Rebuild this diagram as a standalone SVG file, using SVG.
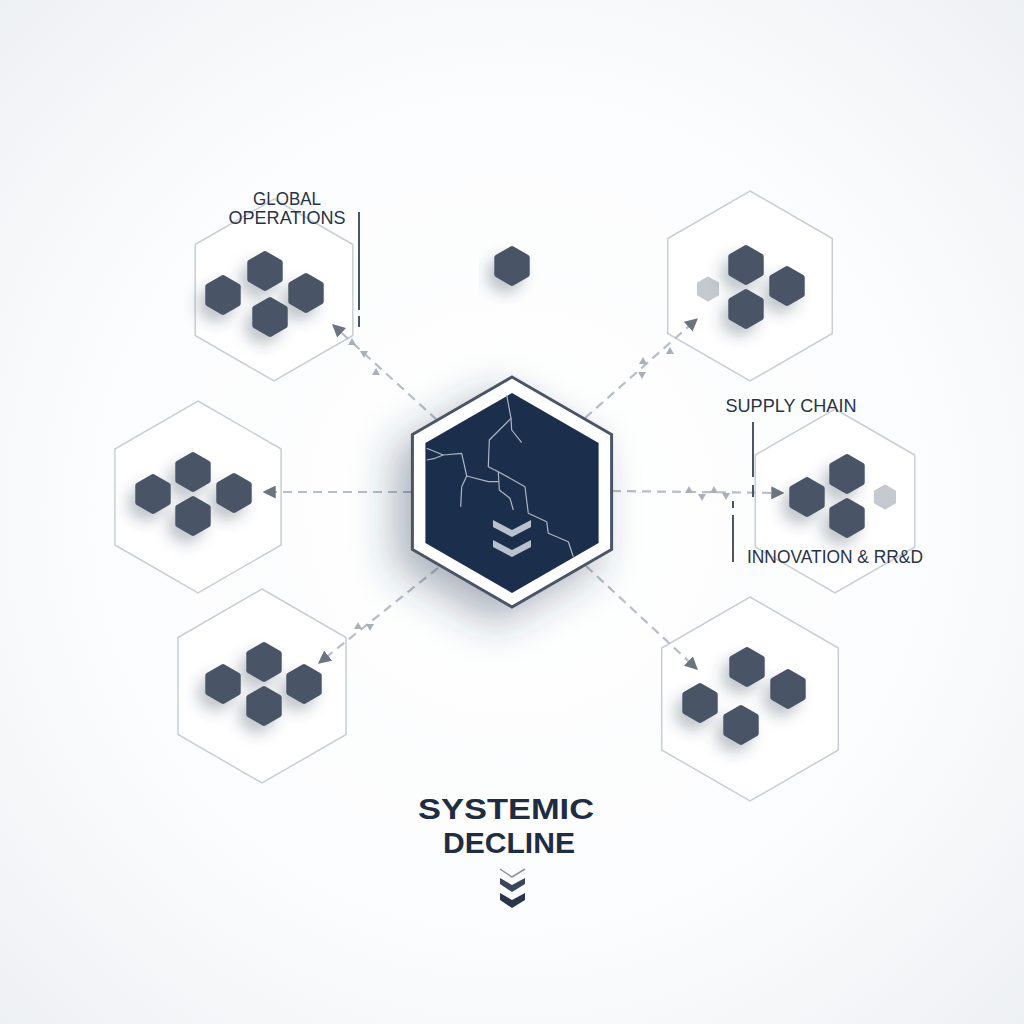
<svg xmlns="http://www.w3.org/2000/svg" xmlns:xlink="http://www.w3.org/1999/xlink" width="1024" height="1024" viewBox="0 0 1024 1024">
<defs>
<radialGradient id="bg" cx="50%" cy="50%" r="70%">
<stop offset="0" stop-color="#ffffff"/>
<stop offset="0.6" stop-color="#fbfcfd"/>
<stop offset="1" stop-color="#eef1f4"/>
</radialGradient>
<filter id="sh" x="-60%" y="-60%" width="220%" height="220%">
<feDropShadow dx="-7" dy="9" stdDeviation="7" flood-color="#3a4658" flood-opacity="0.3"/>
</filter>
<filter id="bigsh" x="-40%" y="-40%" width="180%" height="180%">
<feDropShadow dx="-16" dy="16" stdDeviation="20" flood-color="#2a3a55" flood-opacity="0.38"/>
</filter>
<polygon id="mini" points="0,-17 14.72,-8.5 14.72,8.5 0,17 -14.72,8.5 -14.72,-8.5" fill="#4a5566" stroke="#4a5566" stroke-width="6" stroke-linejoin="round"/>
<polygon id="minilight" points="0,-11 9.5,-5.5 9.5,5.5 0,11 -9.5,5.5 -9.5,-5.5" fill="#c5cad1" stroke="#c5cad1" stroke-width="3" stroke-linejoin="round"/>
<marker id="arr" viewBox="0 0 10 10" refX="9" refY="5" markerWidth="13" markerHeight="13" markerUnits="userSpaceOnUse" orient="auto">
<path d="M0,0 L10,5 L0,10 z" fill="#6b7480"/>
</marker>
<path id="tri" d="M-4,3 L0,-4 L4,3 z" fill="#a9b0ba"/>
</defs>
<style>
.frame{fill:#ffffff;fill-opacity:0.85;stroke:#c9ced5;stroke-width:1.5}
.conn{fill:none;stroke:#b7bec8;stroke-width:2.2;stroke-dasharray:9 6}
.lbl{font-family:"Liberation Sans","Open Sans",sans-serif;font-size:17.5px;fill:#283346}
.lead{stroke:#4a5566;stroke-width:2}
.title{font-family:"Liberation Sans","Open Sans",sans-serif;font-weight:700;font-size:29px;fill:#1f2d42}
</style>
<rect width="1024" height="1024" fill="url(#bg)"/>

<g id="node-top-left">
<polygon class="frame" points="274,199 352.8,244.5 352.8,335.5 274,381 195.2,335.5 195.2,244.5"/>
<g filter="url(#sh)">
<use href="#mini" x="265" y="271"/>
<use href="#mini" x="223" y="295"/>
<use href="#mini" x="306" y="293"/>
<use href="#mini" x="270" y="317"/>
</g>
</g>

<g id="node-top-right">
<polygon class="frame" points="750,191 832.3,238.5 832.3,333.5 750,381 667.7,333.5 667.7,238.5"/>
<use href="#minilight" x="708" y="289"/>
<g filter="url(#sh)">
<use href="#mini" x="746" y="265"/>
<use href="#mini" x="787" y="286"/>
<use href="#mini" x="746" y="309"/>
</g>
</g>

<g id="node-left">
<polygon class="frame" points="198,401 281.1,449 281.1,545 198,593 114.9,545 114.9,449"/>
<g filter="url(#sh)">
<use href="#mini" x="193" y="472"/>
<use href="#mini" x="153" y="494"/>
<use href="#mini" x="234" y="493"/>
<use href="#mini" x="193" y="516"/>
</g>
</g>

<g id="node-bottom-left">
<polygon class="frame" points="262,589 346,637.5 346,734.5 262,783 178,734.5 178,637.5"/>
<g filter="url(#sh)">
<use href="#mini" x="264" y="662"/>
<use href="#mini" x="223" y="684"/>
<use href="#mini" x="304" y="684"/>
<use href="#mini" x="264" y="706"/>
</g>
</g>

<g id="node-bottom-right">
<polygon class="frame" points="750,597 838.3,648 838.3,750 750,801 661.7,750 661.7,648"/>
<g filter="url(#sh)">
<use href="#mini" x="747" y="667"/>
<use href="#mini" x="700" y="703"/>
<use href="#mini" x="788" y="689"/>
<use href="#mini" x="741" y="725"/>
</g>
</g>

<g id="node-right">
<polygon class="frame" points="835,409 914.7,455 914.7,547 835,593 755.3,547 755.3,455"/>
<use href="#minilight" x="885" y="497"/>
<g filter="url(#sh)">
<use href="#mini" x="807" y="497"/>
<use href="#mini" x="847" y="474"/>
<use href="#mini" x="847" y="518"/>
</g>
</g>

<g id="node-top-center" filter="url(#sh)">
<use href="#mini" x="512" y="266"/>
</g>

<g id="connectors">
<line class="conn" x1="437" y1="420" x2="333" y2="325" marker-end="url(#arr)"/>
<line class="conn" x1="412" y1="492" x2="264" y2="492" marker-end="url(#arr)"/>
<line class="conn" x1="585" y1="418" x2="697" y2="319" marker-end="url(#arr)"/>
<line class="conn" x1="612" y1="491" x2="783" y2="493" marker-end="url(#arr)"/>
<line class="conn" x1="438" y1="568" x2="319" y2="663" marker-end="url(#arr)"/>
<line class="conn" x1="586" y1="566" x2="697" y2="669" marker-end="url(#arr)"/>
<use href="#tri" x="352" y="342"/>
<use href="#tri" x="364" y="354" transform="rotate(180 364 354)"/>
<use href="#tri" x="376" y="372"/>
<use href="#tri" x="670" y="351"/>
<use href="#tri" x="643" y="361"/>
<use href="#tri" x="642" y="375" transform="rotate(180 642 375)"/>
<use href="#tri" x="689" y="490"/>
<use href="#tri" x="702" y="497" transform="rotate(180 702 497)"/>
<use href="#tri" x="714" y="490"/>
<use href="#tri" x="726" y="496" transform="rotate(180 726 496)"/>
<use href="#tri" x="358" y="626"/>
<use href="#tri" x="370" y="627" transform="rotate(180 370 627)"/>
</g>

<g id="center-node">
<polygon points="512,377 611.6,434.5 611.6,549.5 512,607 412.4,549.5 412.4,434.5" fill="#ffffff" stroke="#4a5566" stroke-width="3" filter="url(#bigsh)"/>
<polygon points="512,393 598.6,443 598.6,543 512,593 425.4,543 425.4,443" fill="#1b2e4c"/>
<g fill="none" stroke="#aeb6c2" stroke-width="1.2" stroke-linejoin="round">
<polyline points="506.7,395 511,418.3 489.3,440 488.3,466.7 498.3,471.7 525,486.7 528.3,513.3 546.7,521.7 548.3,533.3 568.3,541.7 573.3,556.7"/>
<polyline points="511,418.3 511.7,430 521.7,442.7"/>
<polyline points="498.3,471.7 499.3,490 510,498.3 513.3,510"/>
<polyline points="426.7,448.3 443.3,455 461.7,453.3 466.7,476 488.3,481.7 498.3,481.7"/>
<polyline points="426.7,460 435,458.3 443.3,455"/>
<polyline points="466.7,476 461.7,486.7 460.7,506.7"/>
</g>
<g fill="#b9c1cc">
<path d="M493,520 L512,530 L531,520 L531,527 L512,537 L493,527 z"/>
<path d="M493,540 L512,550 L531,540 L531,547 L512,557 L493,547 z"/>
</g>
</g>

<g id="labels">
<text class="lbl" x="287" y="205" text-anchor="middle" textLength="68" lengthAdjust="spacingAndGlyphs">GLOBAL</text>
<text class="lbl" x="287" y="224" text-anchor="middle" textLength="117" lengthAdjust="spacingAndGlyphs">OPERATIONS</text>
<line class="lead" x1="359" y1="212" x2="359" y2="310"/>
<line class="lead" x1="359" y1="316" x2="359" y2="327" stroke-width="1.5"/>
<text class="lbl" x="791" y="412" text-anchor="middle" textLength="131" lengthAdjust="spacingAndGlyphs">SUPPLY CHAIN</text>
<line class="lead" x1="753" y1="422" x2="753" y2="477"/>
<line class="lead" x1="753" y1="485" x2="753" y2="497" stroke-width="1.5"/>
<text class="lbl" x="835" y="563" text-anchor="middle" textLength="176" lengthAdjust="spacingAndGlyphs">INNOVATION &amp; RR&amp;D</text>
<line class="lead" x1="733" y1="515" x2="733" y2="562"/>
<line class="lead" x1="733" y1="501" x2="733" y2="508" stroke-width="1.5"/>
</g>

<g id="title">
<text class="title" x="506" y="819" text-anchor="middle" textLength="176" lengthAdjust="spacingAndGlyphs">SYSTEMIC</text>
<text class="title" x="509" y="853" text-anchor="middle" textLength="132" lengthAdjust="spacingAndGlyphs">DECLINE</text>
<polyline points="500,869 512,877 525,869" fill="none" stroke="#8a93a0" stroke-width="1.5"/>
<path d="M500,878 L512,885 L525,878 L525,884 L512,892 L500,884 z" fill="#3a4659"/>
<path d="M500,893 L512,900 L525,893 L525,900 L512,908 L500,900 z" fill="#2a364a"/>
</g>
</svg>
